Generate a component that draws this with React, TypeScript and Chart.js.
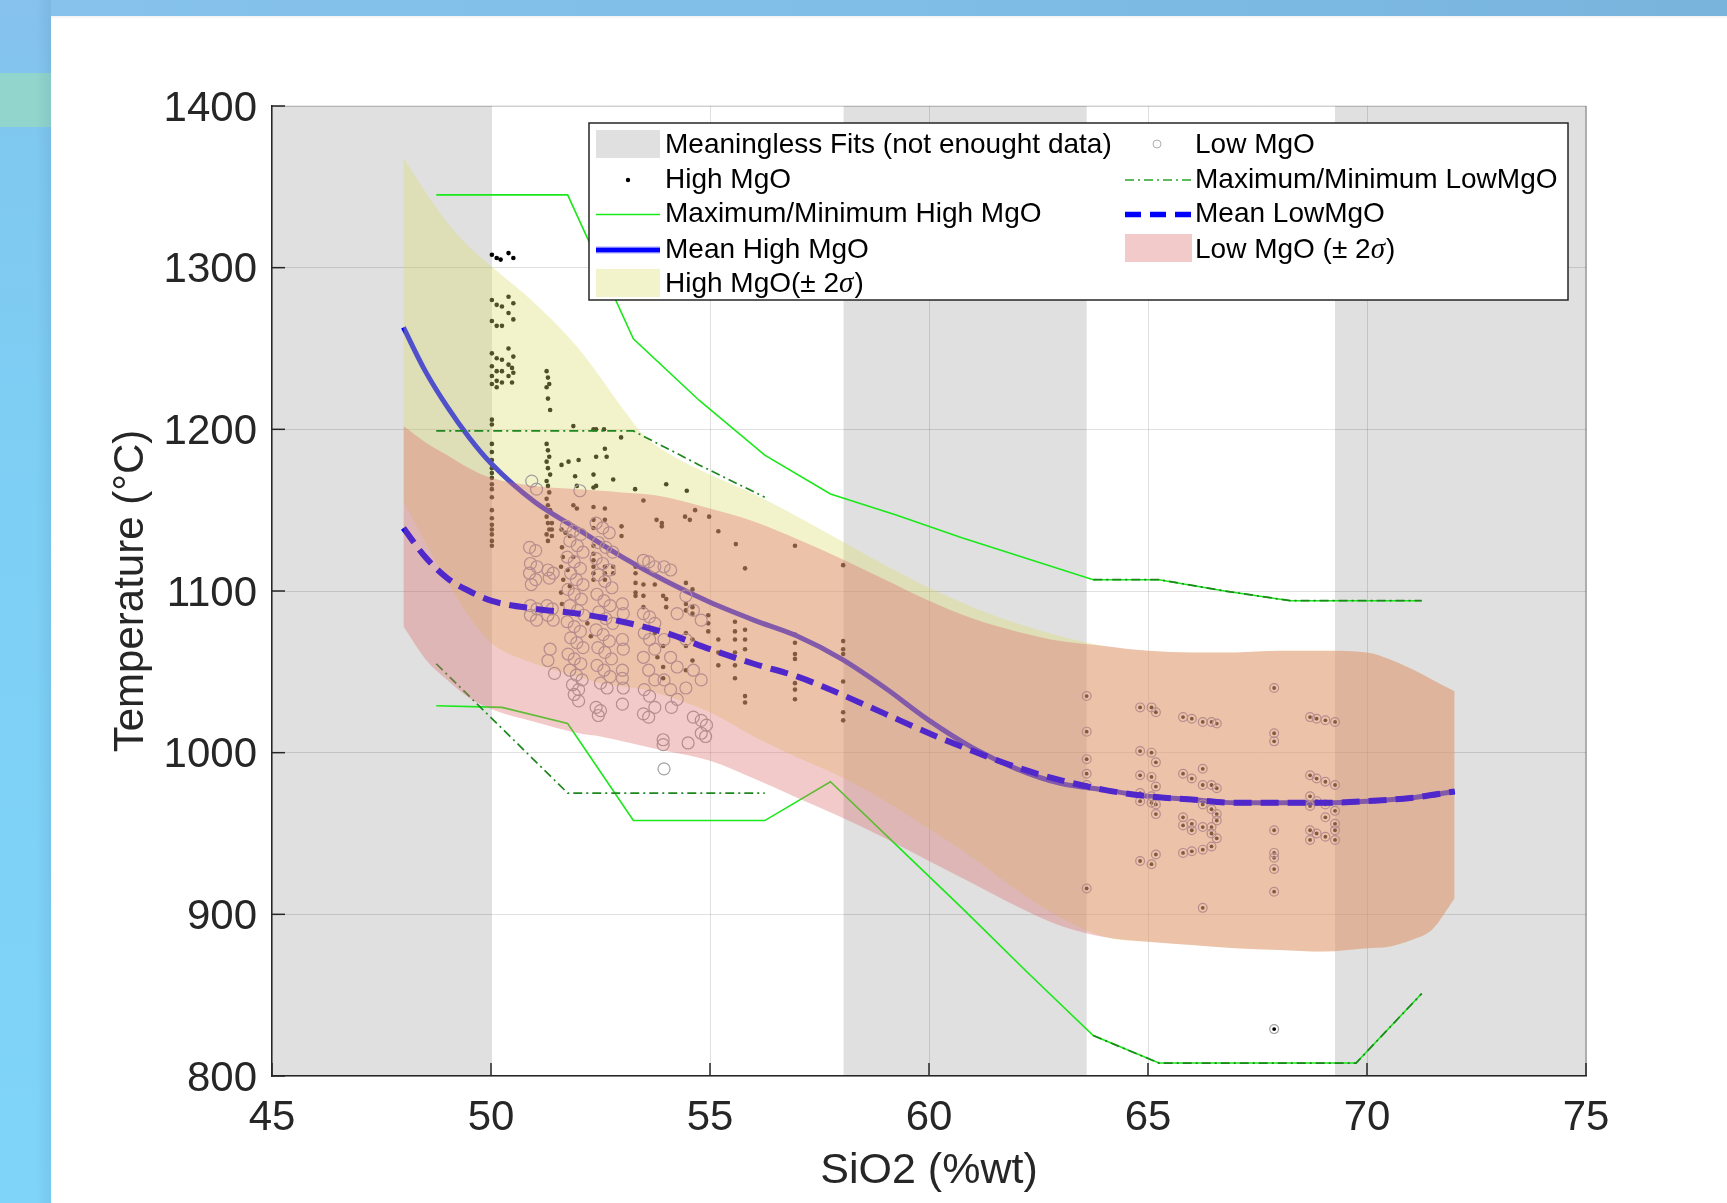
import React, { useEffect, useRef } from 'react';
import { Chart, registerables } from 'chart.js';

Chart.register(...registerables);

// ---------------- data ----------------
const xTickValues = [45, 50, 55, 60, 65, 70, 75];
const yTickValues = [800, 900, 1000, 1100, 1200, 1300, 1400];

// regions flagged as "Meaningless Fits (not enought data)" [SiO2 from, SiO2 to]
const meaninglessRanges: [number, number][] = [
  [45, 50],
  [58.05, 63.6],
  [69.27, 75],
];

// ±2σ envelopes
const bandX = [48, 48.5, 49, 49.5, 50, 51, 52, 52.5, 53, 53.5, 54, 55, 56, 57, 58, 59, 60, 61, 62, 63, 64, 65, 66, 67, 68, 69, 70, 70.5, 71, 71.5, 72];
const highUpper = [1368, 1347, 1328, 1313, 1301, 1278, 1250, 1232, 1213, 1196, 1186, 1172, 1160, 1146, 1131, 1116, 1102, 1090, 1080, 1072, 1066, 1063, 1062, 1062, 1063, 1063, 1062, 1058, 1052, 1045, 1038];
const highLower = [1155, 1130, 1106, 1084, 1068, 1055, 1047, 1043, 1041, 1039, 1035, 1025, 1010, 997, 985, 970, 953, 935, 915, 898, 886, 883, 881, 879, 878, 877, 879, 880, 884, 891, 910];
const lowUpper = [1202, 1192, 1184, 1176, 1170, 1165, 1163, 1162, 1161, 1160, 1158, 1151, 1143, 1132, 1120, 1107, 1094, 1083, 1075, 1069, 1066, 1063, 1062, 1062, 1063, 1063, 1062, 1058, 1052, 1045, 1038];
const lowLower = [1078, 1058, 1045, 1034, 1027, 1019, 1012, 1010, 1007, 1004, 1001, 995, 984, 972, 960, 947, 933, 919, 905, 893, 886, 883, 881, 879, 878, 877, 879, 880, 884, 891, 910];

// mean fits
const meanX = [48, 48.5, 49, 49.5, 50, 51, 52, 53, 54, 55, 56, 57, 58, 59, 60, 61, 62, 63, 64, 65, 66, 67, 68, 69, 70, 71, 72];
const meanHigh = [1263, 1236, 1214, 1195, 1179, 1155, 1138, 1121, 1106, 1093, 1082, 1072, 1058, 1040, 1020, 1003, 990, 981, 977, 973, 971, 969, 969, 969, 970, 972, 976];
const meanLow = [1139, 1121, 1108, 1100, 1094, 1089, 1086, 1081, 1074, 1064, 1055, 1047, 1036, 1024, 1012, 1001, 991, 983, 977, 973, 971, 969, 969, 969, 970, 972, 976];

// maximum / minimum per bin
const binX = [48.75, 50.25, 51.75, 53.25, 54.75, 56.25, 57.75, 59.25, 60.75, 62.25, 63.75, 65.25, 66.75, 68.25, 69.75, 71.25];
const highMax = [1345, 1345, 1345, 1256, 1218, 1184, 1160, 1147, 1133, 1120, 1107, 1107, 1100, 1094, 1094, 1094];
const highMin = [1029, 1028, 1018, 958, 958, 958, 982, 943, 904, 864, 825, 808, 808, 808, 808, 851];
const lowMax = [1199, 1199, 1199, 1199, 1178, 1158, null, null, null, null, 1107, 1107, 1100, 1094, 1094, 1094];
const lowMin = [1055, 1015, 975, 975, 975, 975, null, null, null, null, 825, 808, 808, 808, 808, 851];

// samples [SiO2, T]
const highMgOLeft: [number, number][] = [
  [50.02, 1308], [50.13, 1306], [50.22, 1305], [50.40, 1309], [50.51, 1306],
  [50.02, 1280], [50.13, 1277], [50.25, 1276], [50.40, 1282], [50.51, 1278], [50.40, 1272], [50.51, 1268], [50.02, 1267], [50.13, 1264], [50.25, 1264],
  [50.40, 1250], [50.51, 1245], [50.02, 1247], [50.13, 1244], [50.25, 1243], [50.02, 1239], [50.13, 1236], [50.25, 1236], [50.40, 1240], [50.48, 1238],
  [50.51, 1235], [50.02, 1233], [50.13, 1230], [50.25, 1229], [50.40, 1233], [50.48, 1229], [50.02, 1228], [50.13, 1226],
  [50.02, 1206], [50.02, 1203], [50.02, 1191], [50.02, 1186], [50.02, 1181], [50.02, 1176], [50.02, 1173], [50.02, 1170], [50.02, 1166], [50.02, 1163],
  [50.02, 1158], [50.02, 1150], [50.02, 1145], [50.02, 1141], [50.02, 1138], [50.02, 1135], [50.02, 1131], [50.02, 1128],
  [51.27, 1236], [51.30, 1232], [51.33, 1228], [51.27, 1226], [51.30, 1219], [51.35, 1212],
  [51.27, 1191], [51.30, 1187], [51.33, 1183], [51.27, 1180], [51.30, 1176], [51.35, 1172], [51.27, 1168], [51.30, 1165], [51.33, 1161], [51.27, 1157],
  [51.30, 1153], [51.35, 1150], [51.27, 1146], [51.30, 1142], [51.33, 1138], [51.27, 1135], [51.30, 1131], [51.39, 1142], [51.39, 1138], [51.39, 1134],
  [51.61, 1138], [51.70, 1136], [51.80, 1134], [51.60, 1115], [51.75, 1113], [51.88, 1121], [51.65, 1107], [51.80, 1103], [51.60, 1099],
  [51.62, 1127], [51.64, 1121], [51.88, 1153], [51.96, 1151], [51.62, 1092], [51.85, 1086], [52.20, 1080], [52.28, 1072],
  [51.61, 1178], [51.77, 1180], [52.00, 1181], [51.92, 1171], [52.34, 1172], [52.60, 1188], [52.64, 1183], [52.40, 1183], [51.88, 1202], [52.34, 1200],
  [52.40, 1200], [52.58, 1200], [52.97, 1195], [51.96, 1165], [52.34, 1164], [52.40, 1165], [52.79, 1169], [53.29, 1163], [54.00, 1166], [54.47, 1162],
  [54.66, 1150], [54.98, 1146], [53.48, 1156], [55.19, 1137], [55.59, 1129], [55.80, 1114], [56.94, 1128], [58.04, 1116], [53.78, 1144], [53.90, 1142],
  [53.90, 1140], [54.43, 1146], [54.54, 1144],
  [52.34, 1152], [52.34, 1144], [52.34, 1139], [52.34, 1132], [52.34, 1128], [52.34, 1123], [52.34, 1119], [52.34, 1115], [52.34, 1111], [52.34, 1107],
  [52.60, 1151], [52.60, 1144], [52.60, 1115], [52.60, 1111], [52.60, 1107],
  [52.98, 1140], [52.98, 1134], [52.79, 1115], [52.79, 1111],
  [53.30, 1115], [53.30, 1111], [53.30, 1105], [53.30, 1099], [53.30, 1097],
  [53.48, 1104], [53.48, 1097], [53.48, 1090],
  [53.74, 1104], [53.93, 1097], [54.00, 1095], [54.00, 1090],
  [53.74, 1074], [53.93, 1066], [53.80, 1059], [53.93, 1053], [53.93, 1046],
  [54.45, 1105], [54.60, 1101], [54.45, 1092], [54.60, 1090], [54.45, 1088], [54.60, 1086], [54.45, 1074], [54.60, 1070], [54.45, 1066], [54.60, 1057], [54.45, 1051],
  [54.96, 1085], [54.96, 1080], [54.96, 1075],
  [55.19, 1070], [55.19, 1062], [55.19, 1054],
  [55.57, 1081], [55.57, 1075], [55.57, 1070], [55.57, 1062], [55.57, 1054], [55.57, 1046],
  [55.80, 1076], [55.80, 1070], [55.80, 1064], [55.80, 1035], [55.80, 1031],
  [56.94, 1073], [56.94, 1068], [56.94, 1061], [56.94, 1058], [56.94, 1043], [56.94, 1039], [56.94, 1033],
  [58.04, 1069], [58.04, 1064], [58.04, 1061], [58.04, 1044], [58.04, 1025], [58.04, 1020],
];

const lowMgOLeft: [number, number][] = [
  [50.93, 1168], [51.04, 1163], [52.03, 1162],
  [50.88, 1127], [51.02, 1125], [50.90, 1117], [51.05, 1115], [50.88, 1111], [51.02, 1107], [50.92, 1104], [50.90, 1091], [51.05, 1089], [50.90, 1085], [51.04, 1082],
  [51.30, 1113], [51.42, 1111], [51.33, 1108], [51.28, 1091], [51.40, 1089], [51.30, 1085], [51.42, 1082], [51.35, 1064], [51.30, 1057], [51.45, 1049],
  [51.72, 1140], [51.88, 1137], [52.05, 1135], [51.80, 1131], [51.97, 1128], [52.10, 1124], [51.74, 1121], [51.90, 1118], [52.04, 1114], [51.82, 1111],
  [51.95, 1107], [52.10, 1104], [51.76, 1101], [51.90, 1098], [52.06, 1095], [51.80, 1091], [51.98, 1088], [52.12, 1085], [51.74, 1081], [51.90, 1078],
  [52.04, 1075], [51.82, 1071], [51.96, 1068], [52.10, 1065], [51.76, 1061], [51.90, 1058], [52.05, 1055], [51.80, 1051], [51.95, 1048], [52.08, 1045],
  [51.86, 1042], [52.00, 1039], [51.90, 1036], [52.00, 1032],
  [52.40, 1142], [52.55, 1139], [52.70, 1136], [52.45, 1130], [52.62, 1127], [52.78, 1124], [52.40, 1120], [52.55, 1117], [52.70, 1113], [52.45, 1110],
  [52.60, 1106], [52.76, 1102], [52.42, 1098], [52.58, 1094], [52.72, 1091], [52.46, 1087], [52.62, 1083], [52.78, 1080], [52.40, 1076], [52.56, 1073],
  [52.70, 1069], [52.44, 1065], [52.60, 1062], [52.75, 1058], [52.42, 1054], [52.58, 1051], [52.72, 1047], [52.50, 1043], [52.65, 1040], [52.40, 1028],
  [52.50, 1026], [52.45, 1023],
  [53.00, 1092], [53.02, 1086], [53.00, 1070], [53.02, 1064], [53.00, 1051], [53.00, 1046], [53.02, 1040], [53.00, 1030],
  [53.48, 1119], [53.60, 1118], [53.74, 1115], [53.48, 1086], [53.62, 1084], [53.74, 1080], [53.50, 1074], [53.62, 1070], [53.74, 1064], [53.48, 1059],
  [53.60, 1051], [53.74, 1045], [53.50, 1039], [53.62, 1035], [53.74, 1028], [53.48, 1024], [53.60, 1022],
  [53.95, 1115], [54.10, 1113], [54.25, 1086], [53.95, 1070], [54.10, 1059], [54.25, 1053], [53.95, 1045], [54.10, 1039], [54.25, 1033], [54.12, 1028],
  [53.93, 1008], [53.93, 1005], [53.95, 990],
  [54.45, 1097], [54.62, 1088], [54.80, 1082], [54.45, 1070], [54.62, 1051], [54.80, 1045], [54.45, 1040], [54.62, 1022], [54.80, 1020], [54.80, 1012],
  [54.50, 1006], [54.90, 1010], [54.92, 1017],
];

// samples shared by both groups (circle with dot)
const sharedMgO: [number, number][] = [
  [63.60, 1035], [63.60, 1013], [63.60, 996], [63.60, 987], [63.60, 980], [63.60, 916],
  [64.82, 1028], [64.82, 1001], [64.82, 986], [64.82, 975], [64.82, 970], [64.82, 933],
  [65.08, 1028], [65.08, 1000], [65.08, 985], [65.08, 973], [65.08, 969], [65.08, 931],
  [65.18, 1025], [65.18, 994], [65.18, 979], [65.18, 968], [65.18, 962], [65.18, 937],
  [65.80, 1022], [65.80, 987], [65.80, 960], [65.80, 955], [65.80, 938],
  [66.00, 1021], [66.00, 984], [66.00, 956], [66.00, 952], [66.00, 939],
  [66.25, 1019], [66.25, 990], [66.25, 980], [66.25, 968], [66.25, 954], [66.25, 940], [66.25, 904],
  [66.45, 1019], [66.45, 980], [66.45, 965], [66.45, 954], [66.45, 950], [66.45, 942],
  [66.57, 1018], [66.57, 978], [66.57, 962], [66.57, 958], [66.57, 947],
  [67.88, 1040], [67.88, 1012], [67.88, 1007], [67.88, 952], [67.88, 938], [67.88, 935], [67.88, 928], [67.88, 914], [67.88, 829],
  [68.70, 1022], [68.70, 986], [68.70, 973], [68.70, 967], [68.70, 952], [68.70, 946],
  [68.85, 1021], [68.85, 984], [68.85, 970], [68.85, 950],
  [69.05, 1020], [69.05, 982], [69.05, 968], [69.05, 960], [69.05, 948],
  [69.27, 1019], [69.27, 980], [69.27, 964], [69.27, 956], [69.27, 952], [69.27, 946],
];

const legendCol1 = ['Meaningless Fits (not enought data)', 'High MgO', 'Maximum/Minimum High MgO', 'Mean High MgO', 'High MgO(\u00b1 2\u03c3)'];
const legendCol2 = ['Low MgO', 'Maximum/Minimum LowMgO', 'Mean LowMgO', 'Low MgO (\u00b1 2\u03c3)'];

// ---------------- styles ----------------
const SANS = '"Liberation Sans", Arial, Helvetica, sans-serif';
const AXIS_COLOR = '#262626';
const GRAY_PATCH = '#e0e0e0';
const YELLOW_FILL = 'rgba(222,222,110,0.36)';
const PINK_FILL = 'rgba(222,108,108,0.36)';
const GREEN = 'rgb(25,232,25)';
const DARK_GREEN = 'rgb(30,135,30)';
const BLUE = '#0000ff';

const pts = (xs: number[], ys: (number | null)[]) => xs.map((x, i) => ({ x, y: ys[i] }));
const pairs = (arr: [number, number][]) => arr.map(([x, y]) => ({ x, y }));

const bgPlugin = {
  id: 'meaningless',
  beforeDraw(chart: any) {
    const { ctx, chartArea: a, scales } = chart;
    ctx.save();
    ctx.fillStyle = GRAY_PATCH;
    meaninglessRanges.forEach(([x0, x1]) => {
      const p0 = scales.x.getPixelForValue(x0);
      const p1 = scales.x.getPixelForValue(x1);
      ctx.fillRect(p0, a.top, p1 - p0, a.bottom - a.top);
    });
    ctx.restore();
  },
};

const framePlugin = {
  id: 'frame',
  afterDatasetsDraw(chart: any) {
    const { ctx, chartArea: a, scales } = chart;
    ctx.save();
    ctx.strokeStyle = 'rgba(38,38,38,0.45)';
    ctx.lineWidth = 1.2;
    ctx.beginPath();
    ctx.moveTo(a.right, a.bottom);
    ctx.lineTo(a.right, a.top);
    ctx.stroke();
    ctx.strokeStyle = 'rgba(38,38,38,0.2)';
    ctx.beginPath();
    ctx.moveTo(a.left, a.top);
    ctx.lineTo(a.right, a.top);
    ctx.stroke();
    ctx.strokeStyle = AXIS_COLOR;
    ctx.lineWidth = 1.5;
    const tl = 13;
    xTickValues.forEach((v) => {
      const px = scales.x.getPixelForValue(v);
      ctx.beginPath();
      ctx.moveTo(px, a.bottom);
      ctx.lineTo(px, a.bottom - tl);
      ctx.stroke();
    });
    yTickValues.forEach((v) => {
      const py = scales.y.getPixelForValue(v);
      ctx.beginPath();
      ctx.moveTo(a.left, py);
      ctx.lineTo(a.left + tl, py);
      ctx.stroke();
    });
    ctx.restore();
  },
};

function drawLabel(ctx: CanvasRenderingContext2D, text: string, x: number, y: number) {
  const idx = text.indexOf('\u03c3');
  ctx.fillStyle = '#000';
  ctx.textBaseline = 'middle';
  ctx.textAlign = 'left';
  if (idx < 0) {
    ctx.font = `28px ${SANS}`;
    ctx.fillText(text, x, y);
    return;
  }
  const pre = text.slice(0, idx);
  const post = text.slice(idx + 1);
  ctx.font = `28px ${SANS}`;
  ctx.fillText(pre, x, y);
  let cx = x + ctx.measureText(pre).width;
  ctx.font = `italic 29px "Liberation Serif", "DejaVu Serif", serif`;
  ctx.fillText('\u03c3', cx, y);
  cx += ctx.measureText('\u03c3').width + 1;
  ctx.font = `28px ${SANS}`;
  ctx.fillText(post, cx, y);
}

const legendPlugin = {
  id: 'matlabLegend',
  afterDraw(chart: any) {
    const ctx: CanvasRenderingContext2D = chart.ctx;
    const bx = 589, by = 123, bw = 979, bh = 177;
    const rows = [145, 180, 214.5, 250, 284];
    const c1 = { x0: 596, x1: 660, tx: 665 };
    const c2 = { x0: 1125, x1: 1192, tx: 1195 };
    ctx.save();
    ctx.fillStyle = '#ffffff';
    ctx.fillRect(bx, by, bw, bh);
    ctx.strokeStyle = AXIS_COLOR;
    ctx.lineWidth = 1.5;
    ctx.strokeRect(bx, by, bw, bh);

    const line = (x0: number, x1: number, y: number, color: string, w: number, dash: number[]) => {
      ctx.save();
      ctx.strokeStyle = color;
      ctx.lineWidth = w;
      ctx.setLineDash(dash);
      ctx.beginPath();
      ctx.moveTo(x0, y);
      ctx.lineTo(x1, y);
      ctx.stroke();
      ctx.restore();
    };

    // column 1
    ctx.fillStyle = GRAY_PATCH;
    ctx.fillRect(c1.x0, rows[0] - 15, c1.x1 - c1.x0, 28);
    ctx.fillStyle = '#000';
    ctx.beginPath();
    ctx.arc(628, rows[1], 2.2, 0, Math.PI * 2);
    ctx.fill();
    line(c1.x0, c1.x1, rows[2], GREEN, 1.5, []);
    line(c1.x0, c1.x1, rows[3], 'rgba(110,110,255,0.6)', 7, []);
    line(c1.x0, c1.x1, rows[3], BLUE, 4.5, []);
    ctx.fillStyle = YELLOW_FILL;
    ctx.fillRect(c1.x0, rows[4] - 15, c1.x1 - c1.x0, 28);
    legendCol1.forEach((t, i) => drawLabel(ctx, t, c1.tx, rows[i]));

    // column 2
    ctx.strokeStyle = 'rgb(175,175,175)';
    ctx.lineWidth = 1;
    ctx.beginPath();
    ctx.arc(1157, rows[0] - 1, 4, 0, Math.PI * 2);
    ctx.stroke();
    line(c2.x0, c2.x1, rows[1], 'rgb(40,165,40)', 1.5, [9, 4, 2, 4]);
    line(c2.x0, c2.x1, rows[2], BLUE, 5.5, [16, 9]);
    ctx.fillStyle = PINK_FILL;
    ctx.fillRect(c2.x0, rows[3] - 16, c2.x1 - c2.x0, 28);
    legendCol2.forEach((t, i) => drawLabel(ctx, t, c2.tx, rows[i]));
    ctx.restore();
  },
};

export default function App() {
  const ref = useRef<HTMLCanvasElement | null>(null);

  useEffect(() => {
    if (!ref.current) return;
    const smooth = { tension: 0.4, cubicInterpolationMode: 'monotone' as const };
    const edge = { borderWidth: 0, borderColor: 'rgba(0,0,0,0)', pointRadius: 0, ...smooth };

    const chart = new Chart(ref.current, {
      type: 'line',
      data: {
        datasets: [
          // 0,1 Low MgO ±2σ (top-most layer)
          { label: 'Low MgO (\u00b1 2\u03c3)', data: pts(bandX, lowUpper), fill: '+1', backgroundColor: PINK_FILL, order: 3, ...edge } as any,
          { label: 'lowLower', data: pts(bandX, lowLower), fill: false, order: 3, ...edge } as any,
          // 2 mean low
          { label: 'Mean LowMgO', data: pts(meanX, meanLow), borderColor: BLUE, borderWidth: 6, borderDash: [18, 9], pointRadius: 0, fill: false, order: 4, ...smooth } as any,
          // 3,4 max/min low
          { label: 'Maximum/Minimum LowMgO', data: pts(binX, lowMax), borderColor: DARK_GREEN, borderWidth: 1.7, borderDash: [9, 4, 2, 4], pointRadius: 0, fill: false, order: 5 } as any,
          { label: 'minLow', data: pts(binX, lowMin), borderColor: DARK_GREEN, borderWidth: 1.7, borderDash: [9, 4, 2, 4], pointRadius: 0, fill: false, order: 5 } as any,
          // 5,6 Low MgO circles
          { label: 'Low MgO', data: pairs(lowMgOLeft), showLine: false, pointRadius: 6, pointBorderWidth: 1.2, pointBorderColor: 'rgb(160,160,160)', pointBackgroundColor: 'rgba(0,0,0,0)', order: 6 } as any,
          { label: 'Low MgO shared', data: pairs(sharedMgO), showLine: false, pointRadius: 4.4, pointBorderWidth: 1.2, pointBorderColor: 'rgb(160,160,160)', pointBackgroundColor: 'rgba(0,0,0,0)', order: 6 } as any,
          // 7,8 High MgO ±2σ
          { label: 'High MgO(\u00b1 2\u03c3)', data: pts(bandX, highUpper), fill: '+1', backgroundColor: YELLOW_FILL, order: 7, ...edge } as any,
          { label: 'highLower', data: pts(bandX, highLower), fill: false, order: 7, ...edge } as any,
          // 9 mean high
          { label: 'Mean High MgO', data: pts(meanX, meanHigh), borderColor: BLUE, borderWidth: 5, pointRadius: 0, fill: false, order: 8, ...smooth } as any,
          // 10,11 max/min high
          { label: 'Maximum/Minimum High MgO', data: pts(binX, highMax), borderColor: GREEN, borderWidth: 1.6, pointRadius: 0, fill: false, order: 9 } as any,
          { label: 'minHigh', data: pts(binX, highMin), borderColor: GREEN, borderWidth: 1.6, pointRadius: 0, fill: false, order: 9 } as any,
          // 12,13 High MgO dots
          { label: 'High MgO', data: pairs(highMgOLeft), showLine: false, pointRadius: 2.3, pointBorderWidth: 0, pointBackgroundColor: '#000', order: 10 } as any,
          { label: 'High MgO shared', data: pairs(sharedMgO), showLine: false, pointRadius: 1.9, pointBorderWidth: 0, pointBackgroundColor: '#000', order: 10 } as any,
        ],
      },
      options: {
        animation: false,
        responsive: false,
        devicePixelRatio: 1,
        layout: { padding: { left: 0, top: 106, right: 141, bottom: 0 } },
        plugins: {
          legend: { display: false },
          tooltip: { enabled: false },
          filler: { propagate: false },
        },
        scales: {
          x: {
            type: 'linear',
            min: 45,
            max: 75,
            afterBuildTicks: (s: any) => { s.ticks = xTickValues.map((v) => ({ value: v })); },
            afterFit: (s: any) => { s.height = 127; },
            ticks: { color: AXIS_COLOR, font: { family: SANS, size: 42 }, padding: 17, callback: (v: any) => String(v), maxRotation: 0, autoSkip: false },
            grid: { color: 'rgba(0,0,0,0.12)', lineWidth: 1, drawTicks: false },
            border: { display: true, color: AXIS_COLOR, width: 1.5 },
            title: { display: true, text: 'SiO2 (%wt)', color: AXIS_COLOR, font: { family: SANS, size: 43 }, padding: { top: 0, bottom: 6 } },
          },
          y: {
            type: 'linear',
            min: 800,
            max: 1400,
            afterBuildTicks: (s: any) => { s.ticks = yTickValues.map((v) => ({ value: v })); },
            afterFit: (s: any) => { s.width = 272; },
            ticks: { color: AXIS_COLOR, font: { family: SANS, size: 42 }, padding: 15, labelOffset: 3, callback: (v: any) => String(v), autoSkip: false },
            grid: { color: 'rgba(0,0,0,0.12)', lineWidth: 1, drawTicks: false },
            border: { display: true, color: AXIS_COLOR, width: 1.5 },
            title: { display: true, text: 'Temperature (\u00b0C)', color: AXIS_COLOR, font: { family: SANS, size: 42 }, padding: { top: 106, bottom: 0 } },
          },
        },
      } as any,
      plugins: [bgPlugin, framePlugin, legendPlugin],
    });
    return () => chart.destroy();
  }, []);

  return (
    <div style={{ position: 'fixed', left: 0, top: 0, width: 1727, height: 1203, overflow: 'hidden', background: '#ffffff' }}>
      <div style={{ position: 'absolute', left: 0, top: 0, width: 1727, height: 16, background: 'linear-gradient(to right, #86c2ec, #80bde7 50%, #78b4dc)' }} />
      <div style={{ position: 'absolute', left: 0, top: 0, width: 51, height: 1203, background: 'linear-gradient(to bottom, #86c1ec 0%, #7fc8f0 12%, #7ecff5 40%, #7fd4f9 100%)' }} />
      <div style={{ position: 'absolute', left: 0, top: 73, width: 51, height: 54, background: '#91d5cd' }} />
      <div style={{ position: 'absolute', left: 36, top: 0, width: 15, height: 1203, background: 'linear-gradient(to right, rgba(0,0,0,0), rgba(0,40,80,0.07))' }} />
      <div style={{ position: 'absolute', left: 51, top: 16, width: 1676, height: 3, background: 'linear-gradient(to bottom, rgba(0,30,60,0.06), rgba(0,0,0,0))' }} />
      <canvas ref={ref} width={1727} height={1203} style={{ position: 'absolute', left: 0, top: 0, width: 1727, height: 1203, display: 'block' }} />
    </div>
  );
}
